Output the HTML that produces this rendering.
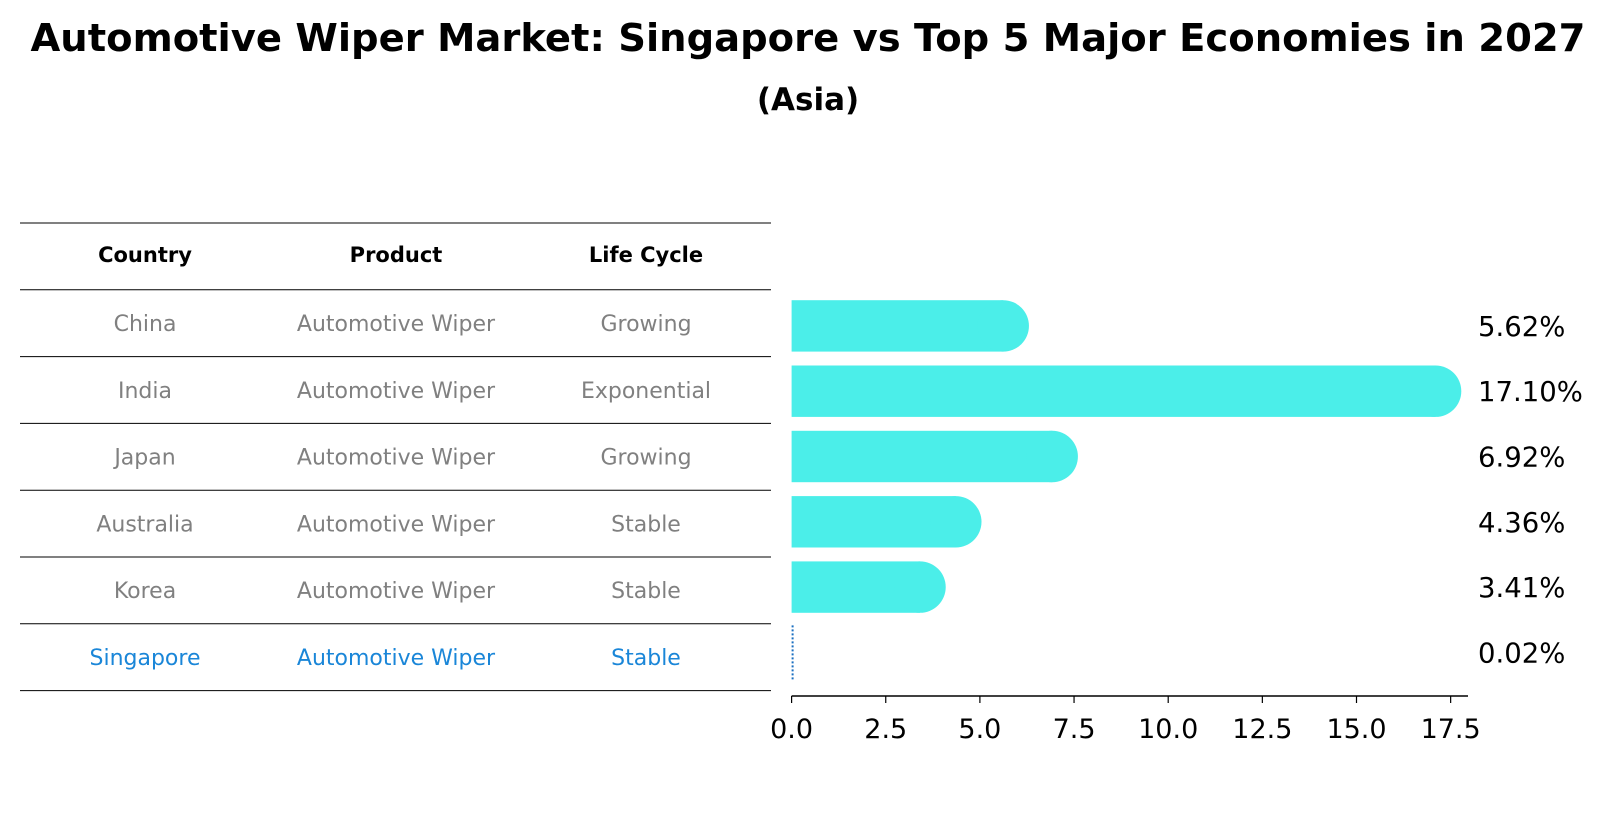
<!DOCTYPE html>
<html><head><meta charset="utf-8"><style>
body{margin:0;background:#fff;font-family:"Liberation Sans","DejaVu Sans",sans-serif}
svg text{font-family:"DejaVu Sans","Liberation Sans",sans-serif}
</style></head><body>
<svg id="c" width="1612" height="823" xmlns="http://www.w3.org/2000/svg">
<text x="808" y="51" text-anchor="middle" font-size="38.5" font-weight="bold">Automotive Wiper Market: Singapore vs Top 5 Major Economies in 2027</text>
<text x="808" y="110" text-anchor="middle" font-size="31" font-weight="bold">(Asia)</text>
<g id="table"></g>
<g id="bars"></g>
</svg>
<script>
const countries=["China","India","Japan","Australia","Korea","Singapore"];
const products=["Automotive Wiper","Automotive Wiper","Automotive Wiper","Automotive Wiper","Automotive Wiper","Automotive Wiper"];
const lifeCycles=["Growing","Exponential","Growing","Stable","Stable","Stable"];
const growth=[5.62,17.10,6.92,4.36,3.41,0.02];
const ticks=[0,2.5,5,7.5,10,12.5,15,17.5];
const NS="http://www.w3.org/2000/svg";
function mk(tag,attrs,parent){const e=document.createElementNS(NS,tag);for(const k in attrs)e.setAttribute(k,attrs[k]);parent.appendChild(e);return e;}
const x=v=>791.6+v*37.66;
const rowY=i=>323+i*66.8;
const tbl=document.getElementById('table');
const colX=[145,396,646];
[["Country",0],["Product",1],["Life Cycle",2]].forEach(([t,c])=>{
  const e=mk('text',{x:colX[c],y:262,'text-anchor':'middle','font-size':21,'font-weight':'bold'},tbl);e.textContent=t;
  
  
});
for(let k=0;k<=7;k++){
  const yy=223+k*66.8;
  const l=mk('line',{x1:20,x2:771,y1:yy,y2:yy,stroke:'#000','stroke-width':1},tbl);
  
  
}
countries.forEach((c,i)=>{
  const col=c==="Singapore"?"#1a86d8":"#808080";
  [c,products[i],lifeCycles[i]].forEach((t,j)=>{
    const e=mk('text',{x:colX[j],y:rowY(i)+8,'text-anchor':'middle','font-size':22,fill:col},tbl);e.textContent=t;
    
    
  });
});
const bg=document.getElementById('bars');
const barCy=i=>325.9+i*65.3;
growth.forEach((v,i)=>{
  const cy=barCy(i);
  if(v<0.1){
    const l=mk('line',{x1:x(0)+1,x2:x(0)+1,y1:cy-27,y2:cy+27,stroke:'#1a6fc0','stroke-width':2,'stroke-dasharray':'2,2'},bg);
    
    
  }else{
    const g=mk('g',{},bg);
    
    
    mk('rect',{x:x(0),y:cy-25.7,width:x(v)-x(0),height:51.4,fill:'#4beee9'},g);
    mk('circle',{cx:x(v),cy:cy,r:25.7,fill:'#4beee9'},g);
  }
  const t=mk('text',{x:1478,y:cy+10,'font-size':27.5},bg);t.textContent=v.toFixed(2)+'%';
  
  
});
const ax=mk('line',{x1:x(0),x2:1468,y1:696,y2:696,stroke:'#000','stroke-width':1.5},bg);


ticks.forEach(t=>{
  const tk=mk('line',{x1:x(t),x2:x(t),y1:696,y2:703,stroke:'#000','stroke-width':1.2},bg);
  
  
  const e=mk('text',{x:x(t),y:738,'text-anchor':'middle','font-size':27},bg);e.textContent=t.toFixed(1);
  
  
});
</script>
</body></html>
